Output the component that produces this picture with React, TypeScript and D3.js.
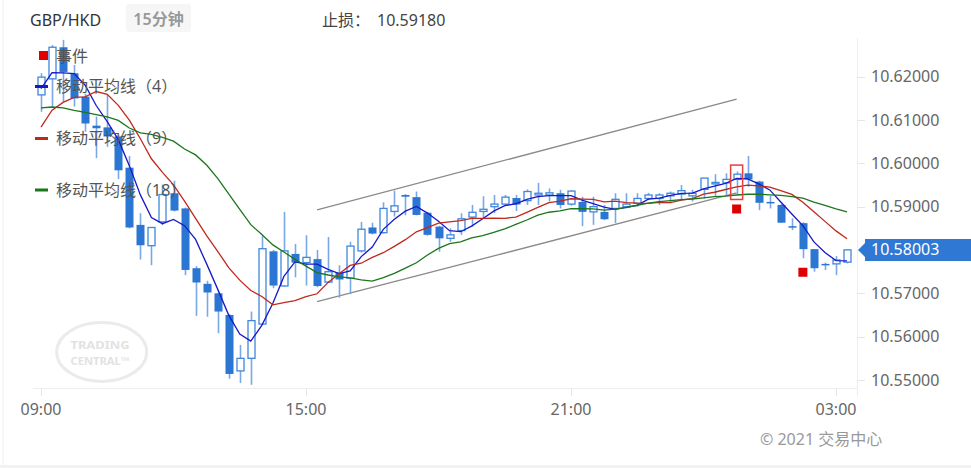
import React from 'react';
import * as d3 from 'd3';

const symbol = 'GBP/HKD';
const period = '15分钟';
const stopLabel = '止损：';
const stopValue = '10.59180';
const lastPrice = 10.58003;
const copyright = '© 2021 交易中心';

const opens = [
  10.6158, 10.6195, 10.6268, 10.6208, 10.6154, 10.6087, 10.6083, 10.6062, 10.599, 10.5858,
  10.581, 10.5865, 10.5931, 10.5896, 10.5758, 10.5722, 10.57, 10.565, 10.5521, 10.555,
  10.5629, 10.5797, 10.5717, 10.5791, 10.5771, 10.5779, 10.5726, 10.5748, 10.5735, 10.5798,
  10.5852, 10.584, 10.5889, 10.5927, 10.5922, 10.5886, 10.5854, 10.5827, 10.5845, 10.5876,
  10.5889, 10.59, 10.5906, 10.592, 10.5914, 10.5927, 10.5927, 10.5931, 10.5906, 10.5911,
  10.5888, 10.5888, 10.5896, 10.59, 10.5908, 10.5919, 10.5919, 10.5925, 10.5929, 10.5925,
  10.594, 10.5954, 10.5955, 10.5963, 10.5977, 10.5958, 10.5911, 10.5904, 10.5855, 10.5862,
  10.5802, 10.5768, 10.5768, 10.5772,
];
const highs = [
  10.6208, 10.6273, 10.6285, 10.6227, 10.616, 10.6108, 10.6158, 10.6066, 10.6017, 10.5885,
  10.5852, 10.5951, 10.596, 10.5898, 10.5763, 10.5729, 10.5702, 10.5652, 10.5581, 10.5658,
  10.5832, 10.58, 10.5888, 10.5814, 10.5834, 10.58, 10.583, 10.5765, 10.5819, 10.5865,
  10.5863, 10.591, 10.5937, 10.5929, 10.5935, 10.5888, 10.5856, 10.585, 10.5885, 10.5904,
  10.5924, 10.5927, 10.5927, 10.5927, 10.594, 10.5955, 10.5942, 10.5939, 10.5938, 10.5923,
  10.5923, 10.5904, 10.5931, 10.5931, 10.5931, 10.5932, 10.5931, 10.5935, 10.595, 10.5939,
  10.5966, 10.5975, 10.5977, 10.5981, 10.6017, 10.596, 10.5925, 10.5906, 10.5873, 10.5864,
  10.5802, 10.5771, 10.5786, 10.5801,
];
const lows = [
  10.6119, 10.6131, 10.6142, 10.6131, 10.6073, 10.6012, 10.6038, 10.5964, 10.585, 10.5778,
  10.5765, 10.5858, 10.5889, 10.5742, 10.5648, 10.5646, 10.5608, 10.5503, 10.5493, 10.5489,
  10.5627, 10.5712, 10.5715, 10.5737, 10.5718, 10.5714, 10.5724, 10.569, 10.5698, 10.5794,
  10.5836, 10.5838, 10.5877, 10.588, 10.588, 10.5833, 10.5796, 10.5819, 10.5835, 10.5854,
  10.5873, 10.5885, 10.5904, 10.589, 10.5904, 10.5904, 10.5912, 10.5896, 10.5902, 10.5855,
  10.5858, 10.5869, 10.5862, 10.5896, 10.59, 10.5915, 10.5904, 10.5908, 10.5917, 10.5912,
  10.5919, 10.5925, 10.5925, 10.5927, 10.5946, 10.5892, 10.5896, 10.5863, 10.5846, 10.5781,
  10.575, 10.5754, 10.5742, 10.5769,
];
const closes = [
  10.6199, 10.6268, 10.6211, 10.615, 10.6092, 10.6081, 10.6062, 10.5984, 10.5852, 10.5811,
  10.5852, 10.5928, 10.5891, 10.5754, 10.5725, 10.5702, 10.5658, 10.5514, 10.555, 10.5637,
  10.5803, 10.5718, 10.5798, 10.5771, 10.5783, 10.5717, 10.575, 10.5732, 10.5809, 10.5848,
  10.5838, 10.5896, 10.5902, 10.5923, 10.5881, 10.5835, 10.5827, 10.5835, 10.5872, 10.5887,
  10.5894, 10.5906, 10.5922, 10.5905, 10.5935, 10.5931, 10.5932, 10.5904, 10.5936, 10.5888,
  10.59, 10.5871, 10.5917, 10.5906, 10.5919, 10.5927, 10.5927, 10.5931, 10.5937, 10.5931,
  10.5966, 10.5956, 10.5963, 10.5975, 10.5963, 10.5909, 10.5908, 10.5863, 10.5852, 10.5802,
  10.5758, 10.5765, 10.5777, 10.58003,
];
// closes before the first visible candle (warm-up for the moving averages)
const priorCloses = [
  10.6227, 10.6252, 10.6251, 10.6175, 10.6176, 10.6157, 10.6124, 10.6169, 10.6018,
  10.5915, 10.605, 10.6045, 10.6082, 10.597, 10.612, 10.6213, 10.6158,
];
const maPeriods = [4, 9, 18];
const maColors = ['#1818c8', '#c0281e', '#1c761c'];
const legendLabels = ['事件', '移动平均线（4）', '移动平均线（9）', '移动平均线（18）'];
const xTickIndex = [0, 24, 48, 72];
const xTickLabels = ['09:00', '15:00', '21:00', '03:00'];
const yTicks = [10.55, 10.56, 10.57, 10.58, 10.59, 10.6, 10.61, 10.62];
const eventIndex = [63, 69];
const highlightIndex = 63;
const channelUpper: [number, number][] = [[25, 10.58924], [63, 10.61485]];
const channelLower: [number, number][] = [[25, 10.56807], [63, 10.59316]];
const watermarkLines = ['TRADING', 'CENTRAL™'];

const FONT = '"Noto Sans","Noto Sans CJK SC",sans-serif';

export default function App() {
  const x = d3.scaleLinear().domain([0, 72]).range([41, 836]);
  const y = d3.scaleLinear().domain([10.55, 10.62]).range([380, 76.7]);

  const all = priorCloses.concat(closes);
  const off = priorCloses.length;
  const maSeries = maPeriods.map((n) =>
    closes.map((_, i) => d3.mean(all.slice(i + off - n + 1, i + off + 1)) as number)
  );
  const line = d3
    .line<number>()
    .x((_, i) => x(i))
    .y((d) => y(d));
  const chan = d3
    .line<[number, number]>()
    .x((d) => x(d[0]))
    .y((d) => y(d[1]));

  const bodyW = 8;
  const yLast = y(lastPrice);

  return (
    <svg
      width={971}
      height={468}
      style={{ position: 'absolute', left: 0, top: 0, display: 'block' }}
      fontFamily={FONT}
    >
      <rect x={0} y={0} width={971} height={468} fill="#ffffff" />
      <rect x={0} y={465} width={971} height={3} fill="#f2f2f2" />
      <line x1={3} x2={3} y1={0} y2={465} stroke="#eeeeee" />

      {/* header */}
      <text x={30} y={20} dy="0.35em" fontSize={16} fill="#333">{symbol}</text>
      <rect x={126} y={4} width={65} height={28} rx={3} fill="#f6f6f6" />
      <text x={158.5} y={19} dy="0.35em" fontSize={16} fill="#999" fontWeight={600} textAnchor="middle">{period}</text>
      <text x={322} y={20} dy="0.35em" fontSize={16} fill="#444">{stopLabel}</text>
      <text x={377} y={20} dy="0.35em" fontSize={16} fill="#444">{stopValue}</text>

      {/* watermark */}
      <g>
        <ellipse cx={101.7} cy={352} rx={45} ry={29.5} fill="none" stroke="#ebebeb" strokeWidth={3} />
        <text x={100} y={349} fontSize={11} fontWeight={700} fill="#e2e2e2" textAnchor="middle" textLength={59} lengthAdjust="spacingAndGlyphs">{watermarkLines[0]}</text>
        <text x={100} y={365} fontSize={11} fontWeight={700} fill="#e2e2e2" textAnchor="middle" textLength={59} lengthAdjust="spacingAndGlyphs">{watermarkLines[1]}</text>
      </g>

      {/* axes */}
      <line x1={33} x2={858} y1={388.5} y2={388.5} stroke="#eeeeee" />
      <line x1={857.5} x2={857.5} y1={38} y2={396} stroke="#eeeeee" />
      {xTickIndex.map((ti, k) => (
        <g key={'xt' + k}>
          <line x1={Math.round(x(ti)) + 0.5} x2={Math.round(x(ti)) + 0.5} y1={388.5} y2={396} stroke="#e6e6e6" />
          <text x={x(ti)} y={409} dy="0.35em" fontSize={16} fill="#666" textAnchor="middle">{xTickLabels[k]}</text>
        </g>
      ))}
      {yTicks.map((t, k) => (
        <g key={'yt' + k}>
          <line x1={857} x2={865} y1={Math.round(y(t)) + 0.5} y2={Math.round(y(t)) + 0.5} stroke="#e6e6e6" />
          <text x={871} y={y(t)} dy="0.35em" fontSize={16} fill="#666">{t.toFixed(5)}</text>
        </g>
      ))}

      {/* channel */}
      <path d={chan(channelUpper) || ''} fill="none" stroke="#8a8a8a" strokeWidth={1.3} />
      <path d={chan(channelLower) || ''} fill="none" stroke="#8a8a8a" strokeWidth={1.3} />

      {/* candles */}
      {closes.map((c, i) => {
        const o = opens[i];
        const cx = Math.round(x(i)) + 0.5;
        const up = c >= o;
        const top = y(Math.max(o, c));
        const bot = y(Math.min(o, c));
        const h = Math.max(bot - top, 1.5);
        return (
          <g key={'c' + i}>
            <line x1={cx} x2={cx} y1={y(highs[i])} y2={y(lows[i])} stroke="#78a8e6" strokeWidth={1.6} />
            {up ? (
              <rect x={cx - bodyW / 2 + 0.5} y={top} width={bodyW - 1} height={h} fill="#ffffff" stroke="#3f87dc" strokeWidth={1.3} />
            ) : (
              <rect x={cx - bodyW / 2} y={top} width={bodyW} height={h} fill="#2b76d2" />
            )}
          </g>
        );
      })}

      {/* moving averages */}
      {maSeries.map((s, k) => (
        <path key={'ma' + k} d={line(s) || ''} fill="none" stroke={maColors[k]} strokeWidth={1.3} />
      ))}

      {/* events */}
      <rect
        x={x(highlightIndex) - 6}
        y={y(highs[highlightIndex]) - 6.5}
        width={12}
        height={y(lows[highlightIndex]) - y(highs[highlightIndex]) + 11}
        fill="none"
        stroke="#e84040"
        strokeWidth={1.5}
      />
      {eventIndex.map((ei) => (
        <rect key={'ev' + ei} x={x(ei) - 4.5} y={y(lows[ei]) + 9.5} width={9} height={9} fill="#e00000" />
      ))}

      {/* last price label */}
      <path d={`M858,${yLast} L865,${yLast - 7} L865,${yLast - 11} L971,${yLast - 11} L971,${yLast + 11} L865,${yLast + 11} L865,${yLast + 7} Z`} fill="#2f78d3" />
      <text x={871} y={yLast} dy="0.35em" fontSize={16} fill="#ffffff">{lastPrice.toFixed(5)}</text>

      {/* legend */}
      <rect x={39} y={51} width={9} height={9} fill="#e00000" />
      <text x={56} y={56.5} dy="0.35em" fontSize={16} fill="#555">{legendLabels[0]}</text>
      {maColors.map((col, k) => {
        const ly = [86.5, 138.5, 190][k];
        return (
          <g key={'lg' + k}>
            <line x1={35} x2={48} y1={ly} y2={ly} stroke={col} strokeWidth={3} />
            <text x={56} y={ly} dy="0.35em" fontSize={16} fill="#555">{legendLabels[k + 1]}</text>
          </g>
        );
      })}

      <text x={760} y={439} dy="0.35em" fontSize={16} fill="#999">{copyright}</text>
    </svg>
  );
}
